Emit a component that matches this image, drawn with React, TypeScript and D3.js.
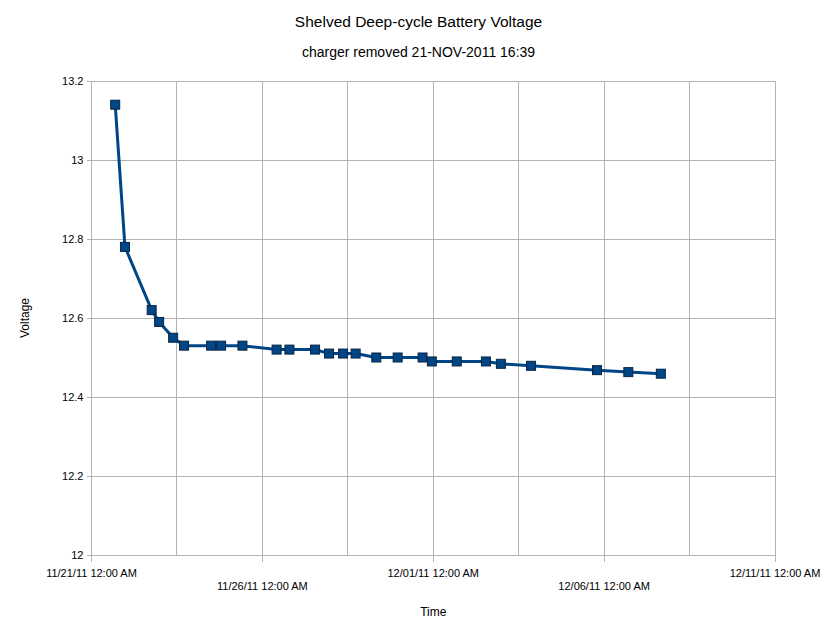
import React, { useEffect, useRef } from "react";
import * as d3 from "d3";

// readings taken after the charger came off (plain clock times, parsed as UTC)
const times: string[] = [
  "2011-11-21 16:39", "2011-11-21 23:30", "2011-11-22 18:15", "2011-11-22 23:30",
  "2011-11-23 09:20", "2011-11-23 17:00", "2011-11-24 12:00", "2011-11-24 19:00",
  "2011-11-25 10:00", "2011-11-26 10:00", "2011-11-26 19:00", "2011-11-27 13:00",
  "2011-11-27 22:50", "2011-11-28 08:40", "2011-11-28 17:30", "2011-11-29 08:00",
  "2011-11-29 23:00", "2011-11-30 16:30", "2011-11-30 23:00", "2011-12-01 16:30",
  "2011-12-02 13:00", "2011-12-02 23:30", "2011-12-03 20:40", "2011-12-05 19:00",
  "2011-12-06 17:00", "2011-12-07 15:50",
];
const voltages: number[] = [
  13.14, 12.78, 12.62, 12.59, 12.55, 12.53, 12.53, 12.53, 12.53, 12.52, 12.52, 12.52,
  12.51, 12.51, 12.51, 12.5, 12.5, 12.5, 12.49, 12.49, 12.49, 12.484, 12.479, 12.468,
  12.463, 12.459,
];
const yTicks: number[] = [12, 12.2, 12.4, 12.6, 12.8, 13, 13.2];
const xStart = "2011-11-21 00:00";
const xEnd = "2011-12-11 00:00";

const title = "Shelved Deep-cycle Battery Voltage";
const subtitle = "charger removed 21-NOV-2011 16:39";

const W = 837;
const H = 634;
const margin = { top: 81, right: 62, bottom: 79, left: 91.5 };
const font = "'Liberation Sans', Arial, sans-serif";
const gridColor = "#b3b3b3";
const lineColor = "#004586";

const App = () => {
  const ref = useRef<SVGSVGElement>(null);

  useEffect(() => {
    const svg = d3.select(ref.current);
    svg.selectAll("*").remove();

    const parse = d3.utcParse("%Y-%m-%d %H:%M");
    const data = times.map((t, i) => ({ t: parse(t) as Date, v: voltages[i] }));

    const x = d3
      .scaleUtc()
      .domain([parse(xStart) as Date, parse(xEnd) as Date])
      .range([margin.left, W - margin.right]);
    const y = d3.scaleLinear().domain([12, 13.2]).range([H - margin.bottom, margin.top]);

    const g = svg.append("g");
    const t0 = x.domain()[0].getTime();

    // vertical grid every 2.5 days
    const gridTimes = d3.range(0, 9).map((k) => new Date(t0 + k * 2.5 * 864e5));
    g.selectAll(".vgrid")
      .data(gridTimes)
      .enter()
      .append("line")
      .attr("x1", (d) => x(d))
      .attr("x2", (d) => x(d))
      .attr("y1", y(13.2))
      .attr("y2", y(12))
      .attr("stroke", gridColor)
      .attr("shape-rendering", "crispEdges");

    // horizontal grid + y ticks
    g.selectAll(".hgrid")
      .data(yTicks)
      .enter()
      .append("line")
      .attr("x1", margin.left - 5)
      .attr("x2", W - margin.right)
      .attr("y1", (d) => y(d))
      .attr("y2", (d) => y(d))
      .attr("stroke", gridColor)
      .attr("shape-rendering", "crispEdges");

    g.selectAll(".ylab")
      .data(yTicks)
      .enter()
      .append("text")
      .attr("x", margin.left - 8)
      .attr("y", (d) => y(d) + 4)
      .attr("text-anchor", "end")
      .attr("font-family", font)
      .attr("font-size", 11)
      .attr("fill", "#000")
      .text((d) => String(+d.toFixed(1)));

    // x major ticks every 5 days, labels staggered on two rows
    const fmt = d3.utcFormat("%m/%d/%y %I:%M %p");
    const majorTimes = d3.range(0, 5).map((k) => new Date(t0 + k * 5 * 864e5));
    g.selectAll(".xtick")
      .data(majorTimes)
      .enter()
      .append("line")
      .attr("x1", (d) => x(d))
      .attr("x2", (d) => x(d))
      .attr("y1", y(12))
      .attr("y2", y(12) + 7)
      .attr("stroke", gridColor)
      .attr("shape-rendering", "crispEdges");

    g.selectAll(".xlab")
      .data(majorTimes)
      .enter()
      .append("text")
      .attr("x", (d) => x(d))
      .attr("y", (_d, i) => y(12) + (i % 2 === 0 ? 22 : 35))
      .attr("text-anchor", "middle")
      .attr("font-family", font)
      .attr("font-size", 11)
      .attr("fill", "#000")
      .text((d) => fmt(d));

    // series
    const line = d3
      .line<{ t: Date; v: number }>()
      .x((d) => x(d.t))
      .y((d) => y(d.v));
    g.append("path")
      .datum(data)
      .attr("d", line)
      .attr("fill", "none")
      .attr("stroke", lineColor)
      .attr("stroke-width", 3)
      .attr("stroke-linejoin", "round");

    const s = 9;
    g.selectAll(".pt")
      .data(data)
      .enter()
      .append("rect")
      .attr("x", (d) => x(d.t) - s / 2)
      .attr("y", (d) => y(d.v) - s / 2)
      .attr("width", s)
      .attr("height", s)
      .attr("fill", lineColor)
      .attr("stroke", "#0a2540")
      .attr("stroke-width", 1);

    // titles
    const cx = (margin.left + W - margin.right) / 2;
    svg.append("text")
      .attr("x", W / 2)
      .attr("y", 27)
      .attr("text-anchor", "middle")
      .attr("font-family", font)
      .attr("font-size", 15.5)
      .text(title);
    svg.append("text")
      .attr("x", W / 2)
      .attr("y", 57)
      .attr("text-anchor", "middle")
      .attr("font-family", font)
      .attr("font-size", 14)
      .text(subtitle);
    svg.append("text")
      .attr("x", cx)
      .attr("y", 616)
      .attr("text-anchor", "middle")
      .attr("font-family", font)
      .attr("font-size", 12)
      .text("Time");
    svg.append("text")
      .attr("transform", `translate(29, ${(y(12) + y(13.2)) / 2}) rotate(-90)`)
      .attr("text-anchor", "middle")
      .attr("font-family", font)
      .attr("font-size", 12)
      .text("Voltage");
  }, []);

  return (
    <svg
      ref={ref}
      width={W}
      height={H}
      style={{ position: "absolute", left: 0, top: 0, background: "#fff" }}
    />
  );
};

export default App;
